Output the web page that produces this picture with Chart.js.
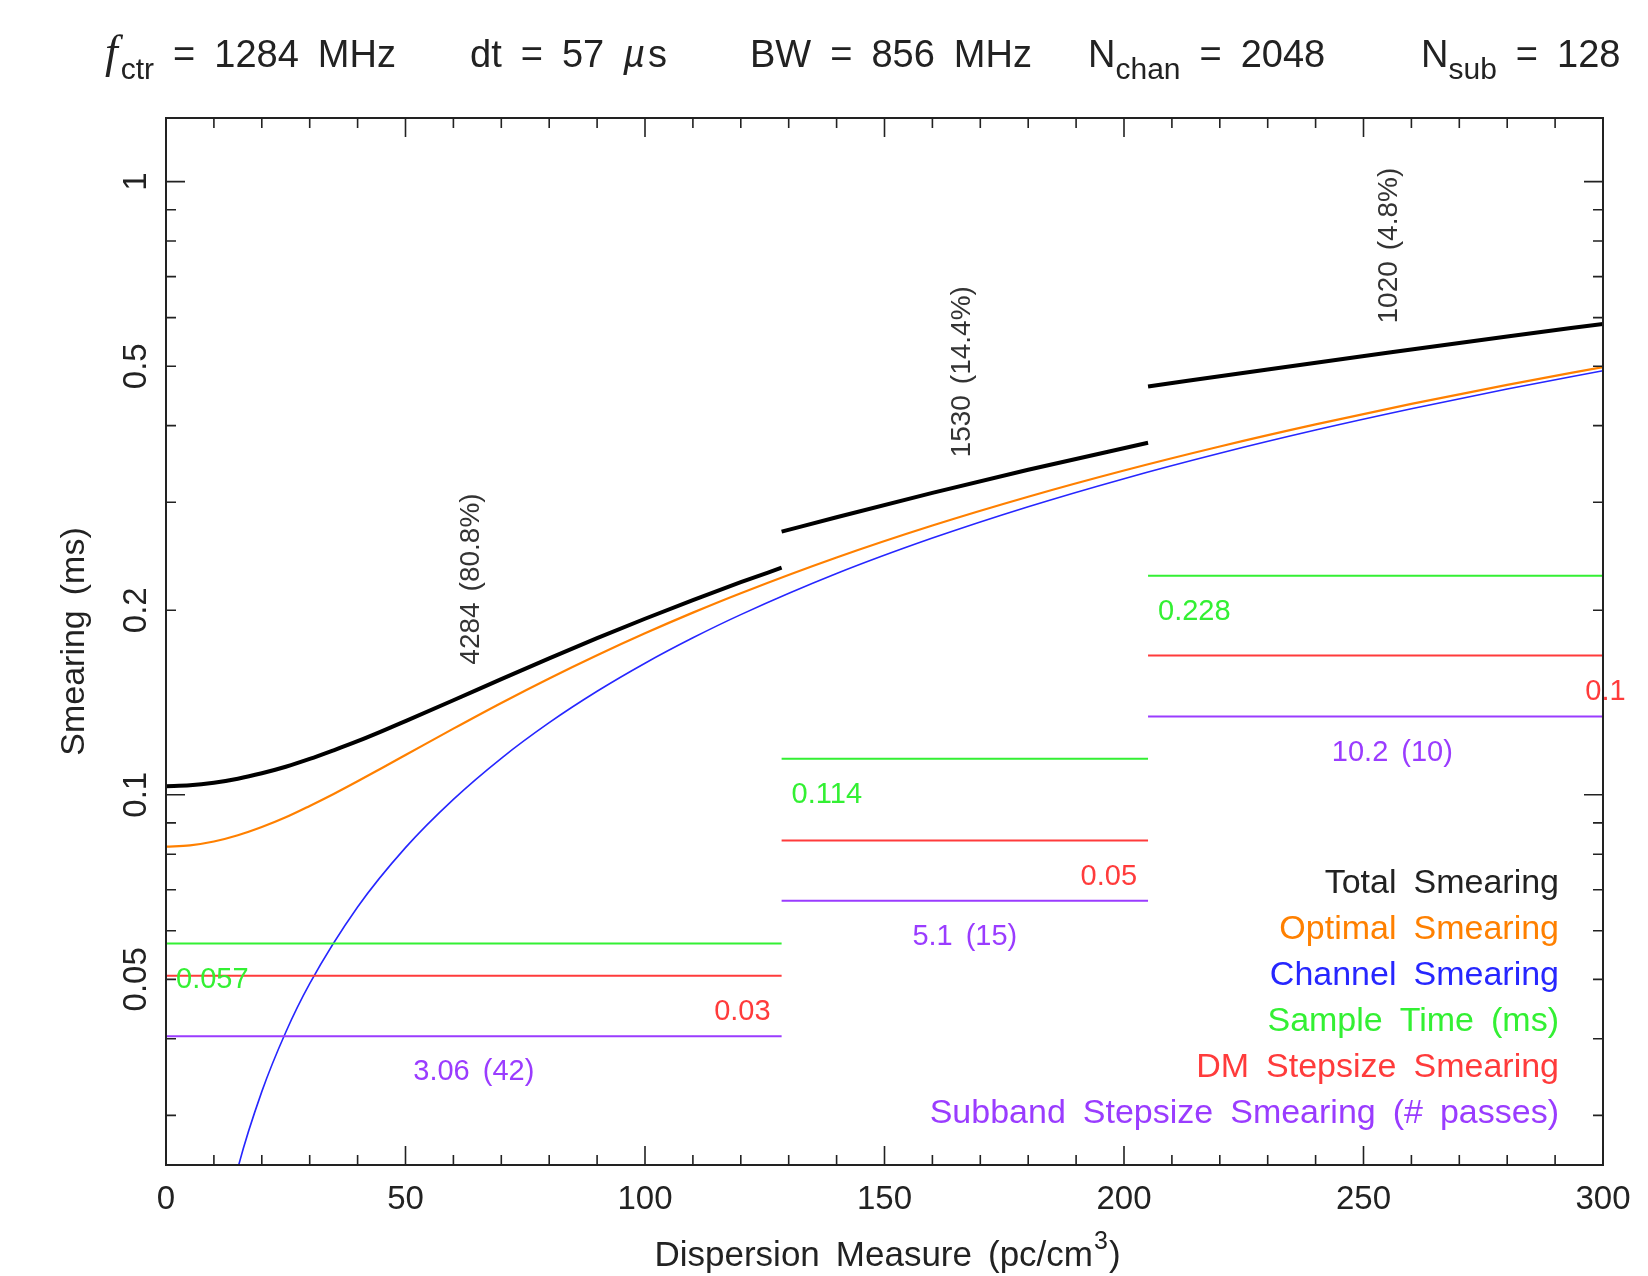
<!DOCTYPE html>
<html>
<head>
<meta charset="utf-8">
<title>DM smearing plan</title>
<script src="https://cdn.jsdelivr.net/npm/chart.js@4.4.1/dist/chart.umd.min.js"></script>
<style>
  html, body { margin: 0; padding: 0; background: #fff; }
  #wrap { width: 1648px; height: 1276px; }
</style>
</head>
<body>
<div id="wrap"><canvas id="smearChart" width="1648" height="1276"></canvas></div>
<script>
// dedispersion steps (pc/cm^3) and their labels: #DMs (% of work)
const stepLowDM = [0, 128.52, 205.02];
const stepHighDM = [128.52, 205.02, 307.02];
const stepLabels = ["4284 (80.8%)", "1530 (14.4%)", "1020 (4.8%)"];
const stepLabelSmear = [0.163, 0.355, 0.587];

// flat smearing levels per step (ms)
const sampleTime = [0.0572, 0.1145, 0.2276];
const sampleTimeText = ["0.057", "0.114", "0.228"];
const dmStepSmear = [0.0507, 0.0842, 0.1687];
const dmStepText = ["0.03", "0.05", "0.1"];
const subbandSmear = [0.0404, 0.0672, 0.1342];
const subbandText = ["3.06 (42)", "5.1 (15)", "10.2 (10)"];

// optimal smearing curve
const curveDM = [0, 5, 10, 15, 20, 25, 30, 35, 40, 45, 50, 60, 70, 80, 90, 100, 110, 120, 140, 160, 180, 200, 220, 240, 260, 280, 300];
const optimalSmear = [0.0823, 0.0827, 0.0839, 0.0859, 0.0886, 0.0919, 0.0959, 0.1003, 0.1052, 0.1105, 0.1161,
  0.1282, 0.1412, 0.1548, 0.1689, 0.1834, 0.1982, 0.2132, 0.2438, 0.2749, 0.3063, 0.3380, 0.3699, 0.4019,
  0.4340, 0.4662, 0.4985];

// channel smearing curve
const channelDM = [10, 15, 20, 25, 30, 40, 50, 60, 70, 80, 90, 100, 110, 120, 140, 160, 180, 200, 220, 240, 260, 280, 300];
const channelSmear = [0.0164, 0.0246, 0.0328, 0.0410, 0.0492, 0.0656, 0.0820, 0.0983, 0.1147, 0.1311, 0.1475, 0.1639,
  0.1803, 0.1967, 0.2295, 0.2622, 0.2950, 0.3278, 0.3606, 0.3934, 0.4261, 0.4589, 0.4917];

// total smearing, one piece per step
const totalDM1 = [0, 5, 10, 15, 20, 25, 30, 35, 40, 45, 50, 60, 70, 80, 90, 100, 110, 120, 128.52];
const totalSmear1 = [0.1033, 0.1036, 0.1046, 0.1062, 0.1084, 0.1111, 0.1144, 0.1182, 0.1223, 0.1269, 0.1319,
  0.1426, 0.1544, 0.1669, 0.1801, 0.1937, 0.2078, 0.2222, 0.2346];
const totalDM2 = [128.52, 140, 160, 180, 205.02];
const totalSmear2 = [0.2686, 0.2836, 0.3108, 0.3389, 0.3751];
const totalDM3 = [205.02, 230, 255, 280, 300];
const totalSmear3 = [0.4635, 0.4940, 0.5259, 0.5590, 0.5862];

// axes
const xMajorTicks = [0, 50, 100, 150, 200, 250, 300];
const xMinorTicks = [10, 20, 30, 40, 60, 70, 80, 90, 110, 120, 130, 140, 160, 170, 180, 190, 210, 220, 230, 240, 260, 270, 280, 290];
const yMajorTicks = [0.1, 1];
const yMinorTicks = [0.03, 0.04, 0.05, 0.06, 0.07, 0.08, 0.09, 0.2, 0.3, 0.4, 0.5, 0.6, 0.7, 0.8, 0.9];
const yTickLabels = [0.05, 0.1, 0.2, 0.5, 1];
const yMin = 0.0249, yMax = 1.27;

const legendNames = ["Total Smearing", "Optimal Smearing", "Channel Smearing", "Sample Time (ms)",
  "DM Stepsize Smearing", "Subband Stepsize Smearing (# passes)"];

const COLORS = {
  total: "#000000",
  optimal: "#ff8000",
  channel: "#2626ff",
  sample: "#33f033",
  dmstep: "#ff3b3b",
  subband: "#9a3cff"
};
const SANS = '"Liberation Sans", Arial, sans-serif';
const INK = "#222";

function pairs(xs, ys) {
  return xs.map((x, i) => ({ x, y: ys[i] }));
}

function stepLine(levels) {
  const pts = [];
  levels.forEach((v, i) => {
    if (i) pts.push({ x: stepLowDM[i], y: null });
    pts.push({ x: stepLowDM[i], y: v }, { x: stepHighDM[i], y: v });
  });
  return pts;
}

const totalPoints = [
  ...pairs(totalDM1, totalSmear1), { x: 128.52, y: null },
  ...pairs(totalDM2, totalSmear2), { x: 205.02, y: null },
  ...pairs(totalDM3, totalSmear3)
];

// pgplot-style text has wide word gaps, so words are placed one by one
function spacedWidth(ctx, str, gap) {
  const words = str.split(" ");
  return words.reduce((s, w) => s + ctx.measureText(w).width, 0) + (words.length - 1) * gap;
}

function fillSpaced(ctx, str, x, y, gap, align) {
  const w = spacedWidth(ctx, str, gap);
  let cx = align === "right" ? x - w : align === "center" ? x - w / 2 : x;
  ctx.textAlign = "left";
  str.split(" ").forEach(word => {
    ctx.fillText(word, cx, y);
    cx += ctx.measureText(word).width + gap;
  });
  return w;
}

function drawRuns(ctx, runs, x, base) {
  runs.forEach(([txt, kind]) => {
    let dy = 0;
    if (kind === "sub") {
      ctx.font = "30px " + SANS;
      dy = 12;
    } else if (kind === "ital") {
      ctx.font = txt === "f" ? 'italic 46px "Liberation Serif", serif' : "italic 38px " + SANS;
    } else {
      ctx.font = "38px " + SANS;
    }
    x += fillSpaced(ctx, txt, x, base + dy, 19) + (kind === "ital" ? 3 : 0);
  });
}

const headerItems = [
  [["f", "ital"], ["ctr", "sub"], [" = 1284 MHz", ""]],
  [["dt = 57 ", ""], ["\u00b5", "ital"], ["s", ""]],
  [["BW = 856 MHz", ""]],
  [["N", ""], ["chan", "sub"], [" = 2048", ""]],
  [["N", ""], ["sub", "sub"], [" = 128", ""]]
];
const headerX = [105, 470, 750, 1088, 1421];

const axesAndText = {
  id: "axesAndText",
  afterDatasetsDraw(chart) {
    const { ctx, chartArea: a } = chart;
    const xs = chart.scales.x, ys = chart.scales.y;
    ctx.save();

    // frame and inward ticks on all four sides
    ctx.strokeStyle = INK;
    ctx.lineWidth = 2;
    ctx.strokeRect(a.left, a.top, a.right - a.left, a.bottom - a.top);
    ctx.lineWidth = 1.6;
    ctx.beginPath();
    const xTick = (v, len) => {
      const px = xs.getPixelForValue(v);
      ctx.moveTo(px, a.bottom); ctx.lineTo(px, a.bottom - len);
      ctx.moveTo(px, a.top); ctx.lineTo(px, a.top + len);
    };
    const yTick = (v, len) => {
      const py = ys.getPixelForValue(v);
      ctx.moveTo(a.left, py); ctx.lineTo(a.left + len, py);
      ctx.moveTo(a.right, py); ctx.lineTo(a.right - len, py);
    };
    xMajorTicks.forEach(v => xTick(v, 19));
    xMinorTicks.forEach(v => xTick(v, 10));
    yMajorTicks.forEach(v => yTick(v, 19));
    yMinorTicks.forEach(v => yTick(v, 10));
    ctx.stroke();

    // tick labels
    ctx.fillStyle = INK;
    ctx.font = "33px " + SANS;
    ctx.textAlign = "center";
    ctx.textBaseline = "alphabetic";
    xMajorTicks.forEach(v => ctx.fillText(String(v), xs.getPixelForValue(v), 1209));
    yTickLabels.forEach(v => {
      ctx.save();
      ctx.translate(146, ys.getPixelForValue(v));
      ctx.rotate(-Math.PI / 2);
      ctx.textAlign = "center";
      ctx.fillText(String(v), 0, 0);
      ctx.restore();
    });

    // axis titles
    ctx.font = "34px " + SANS;
    ctx.save();
    ctx.translate(84, (a.top + a.bottom) / 2);
    ctx.rotate(-Math.PI / 2);
    fillSpaced(ctx, "Smearing (ms)", 0, 0, 15, "center");
    ctx.restore();

    const xTitle = "Dispersion Measure (pc/cm";
    ctx.font = "35px " + SANS;
    const w1 = spacedWidth(ctx, xTitle, 16);
    const w3 = ctx.measureText(")").width;
    ctx.font = "25px " + SANS;
    const w2 = ctx.measureText("3").width;
    let tx = (a.left + a.right) / 2 - (w1 + w2 + w3) / 2 + 2;
    ctx.font = "35px " + SANS;
    fillSpaced(ctx, xTitle, tx, 1266, 16, "left");
    ctx.fillText(")", tx + w1 + w2 + 2, 1266);
    ctx.font = "25px " + SANS;
    ctx.fillText("3", tx + w1 + 1, 1249);

    // header line
    headerItems.forEach((runs, i) => drawRuns(ctx, runs, headerX[i], 67));

    // per-step labels
    ctx.textBaseline = "middle";
    stepLowDM.forEach((lo, i) => {
      const hi = stepHighDM[i];
      const xl = xs.getPixelForValue(lo), xh = xs.getPixelForValue(hi);
      const xc = xs.getPixelForValue((lo + hi) / 2);
      ctx.font = "29px " + SANS;

      ctx.fillStyle = COLORS.sample;
      fillSpaced(ctx, sampleTimeText[i], xl + 10, ys.getPixelForValue(sampleTime[i] * 0.873), 13, "left");

      ctx.fillStyle = COLORS.dmstep;
      fillSpaced(ctx, dmStepText[i], xh - 11, ys.getPixelForValue(dmStepSmear[i] * 0.873), 13, "right");

      ctx.fillStyle = COLORS.subband;
      fillSpaced(ctx, subbandText[i], xc, ys.getPixelForValue(subbandSmear[i] * 0.873), 13, "center");

      ctx.save();
      ctx.fillStyle = "#333";
      ctx.font = "28px " + SANS;
      ctx.translate(xc - 3, ys.getPixelForValue(stepLabelSmear[i]));
      ctx.rotate(-Math.PI / 2);
      fillSpaced(ctx, stepLabels[i], 0, 0, 11, "left");
      ctx.restore();
    });

    // legend, right aligned inside the frame
    const legendColors = [COLORS.total, COLORS.optimal, COLORS.channel, COLORS.sample, COLORS.dmstep, COLORS.subband];
    ctx.font = "34px " + SANS;
    ctx.textBaseline = "alphabetic";
    legendNames.forEach((name, i) => {
      ctx.fillStyle = i === 0 ? INK : legendColors[i];
      fillSpaced(ctx, name, 1559, 893 + i * 45.9, 17, "right");
    });

    ctx.restore();
  }
};

new Chart(document.getElementById("smearChart"), {
  type: "line",
  data: {
    datasets: [
      { label: "Sample Time (ms)", data: stepLine(sampleTime), borderColor: COLORS.sample, borderWidth: 2 },
      { label: "DM Stepsize Smearing", data: stepLine(dmStepSmear), borderColor: COLORS.dmstep, borderWidth: 2 },
      { label: "Subband Stepsize Smearing", data: stepLine(subbandSmear), borderColor: COLORS.subband, borderWidth: 2 },
      { label: "Channel Smearing", data: pairs(channelDM, channelSmear), borderColor: COLORS.channel, borderWidth: 1.6, cubicInterpolationMode: "monotone" },
      { label: "Optimal Smearing", data: pairs(curveDM, optimalSmear), borderColor: COLORS.optimal, borderWidth: 2.2, cubicInterpolationMode: "monotone" },
      { label: "Total Smearing", data: totalPoints, borderColor: COLORS.total, borderWidth: 4, cubicInterpolationMode: "monotone" }
    ]
  },
  options: {
    responsive: false,
    animation: false,
    events: [],
    layout: { padding: { left: 166, right: 45, top: 118, bottom: 111 } },
    elements: { point: { radius: 0 }, line: { borderCapStyle: "butt" } },
    spanGaps: false,
    plugins: { legend: { display: false }, tooltip: { enabled: false } },
    scales: {
      x: { type: "linear", min: 0, max: 300, display: false },
      y: { type: "logarithmic", min: yMin, max: yMax, display: false }
    }
  },
  plugins: [axesAndText]
});
</script>
</body>
</html>
